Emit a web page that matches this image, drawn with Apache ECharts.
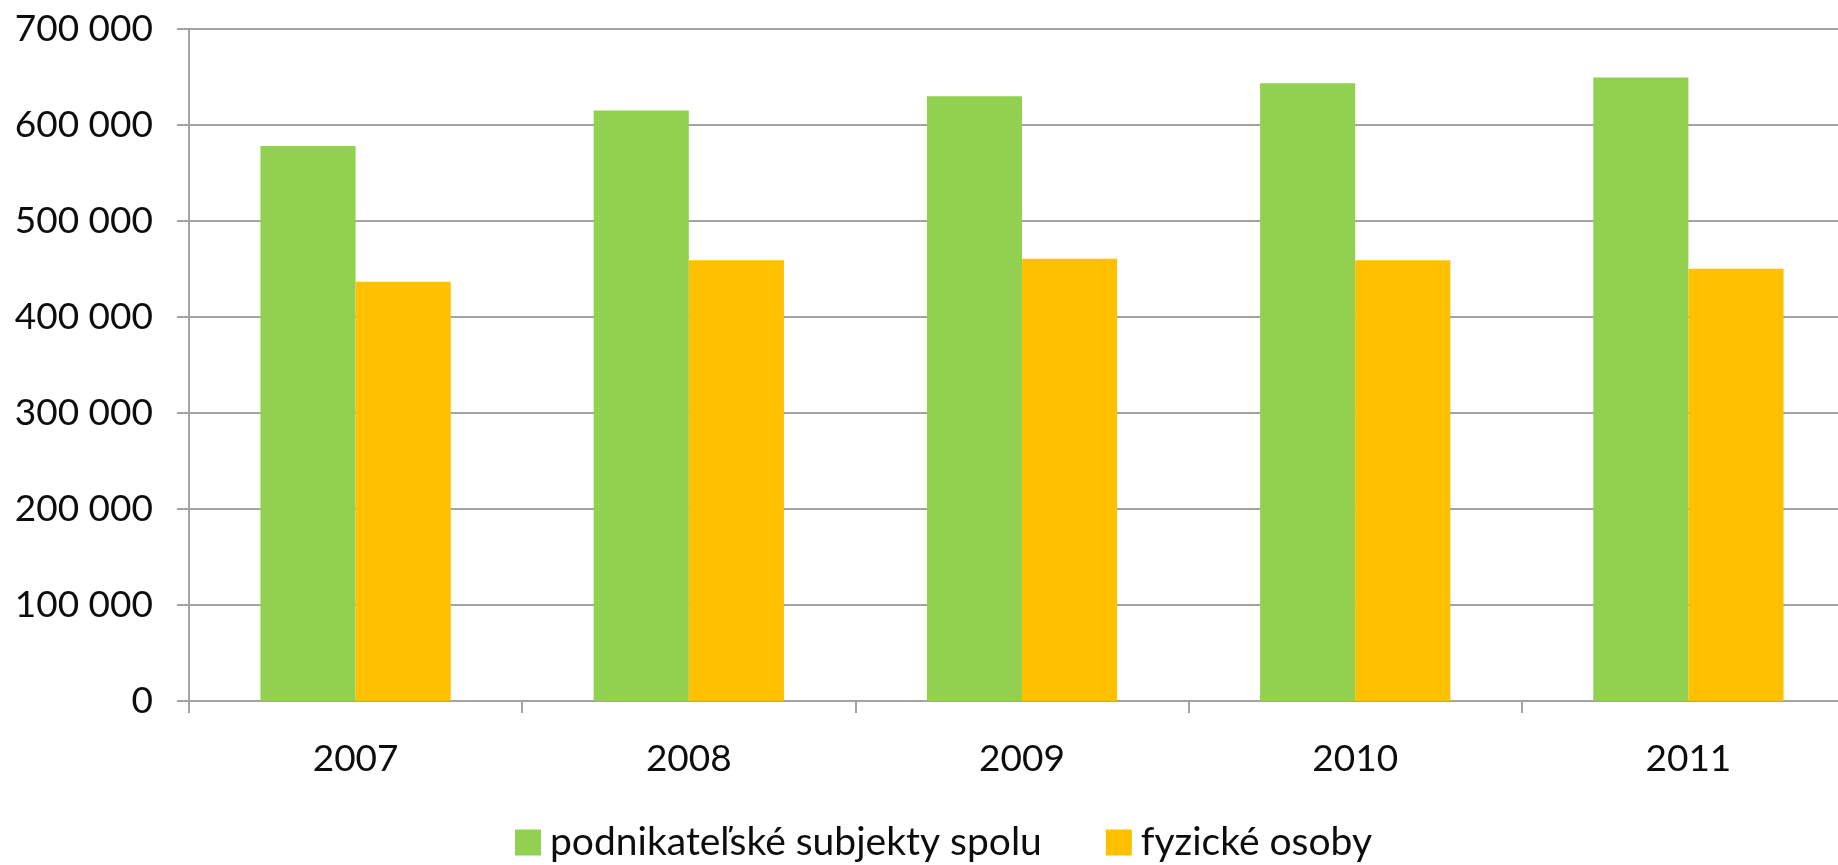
<!DOCTYPE html>
<html>
<head>
<meta charset="utf-8">
<script src="https://cdn.jsdelivr.net/npm/echarts@6/dist/echarts.min.js"></script>
<style>
html,body{margin:0;padding:0;background:#fff;}
#chart{width:1838px;height:865px;}
</style>
</head>
<body>
<div id="chart"></div>
<script>
const categories = ['2007', '2008', '2009', '2010', '2011'];
const seriesNames = ['podnikateľské subjekty spolu', 'fyzické osoby'];
const podnikatelskeSubjekty = [578000, 615000, 630000, 643500, 649500];
const fyzickeOsoby = [436600, 459200, 460600, 459200, 450200];
const yTicks = [0, 100000, 200000, 300000, 400000, 500000, 600000, 700000];

const FONT = 'Lato';
const TEXT = '#0d0d0d';
const GRID = '#a3a3a3';

const chart = echarts.init(document.getElementById('chart'));
chart.setOption({
  backgroundColor: '#ffffff',
  animation: false,
  textStyle: { fontFamily: FONT },
  grid: { left: 189, right: -17, top: 29, bottom: 164, containLabel: false, outerBoundsMode: 'none' },
  legend: {
    left: 510,
    top: 818,
    icon: 'rect',
    itemWidth: 26,
    itemHeight: 26,
    itemGap: 64,
    textStyle: { fontFamily: FONT, fontSize: 39, color: TEXT, padding: [0, 0, 0, 4] },
    data: seriesNames
  },
  xAxis: {
    type: 'category',
    data: categories,
    axisLine: { show: true, lineStyle: { color: GRID, width: 2 } },
    axisTick: { show: true, alignWithLabel: false, length: 12, lineStyle: { color: GRID, width: 2 } },
    axisLabel: { fontFamily: FONT, fontSize: 37, color: TEXT, margin: 40 }
  },
  yAxis: {
    type: 'value',
    min: yTicks[0],
    max: yTicks[yTicks.length - 1],
    interval: yTicks[1] - yTicks[0],
    axisLine: { show: true, lineStyle: { color: GRID, width: 2 } },
    axisTick: { show: true, length: 12, lineStyle: { color: GRID, width: 2 } },
    splitLine: { show: true, lineStyle: { color: GRID, width: 2 } },
    axisLabel: {
      fontFamily: FONT, fontSize: 37, color: TEXT, margin: 36,
      formatter: v => String(v).replace(/\B(?=(\d{3})+(?!\d))/g, ' ')
    }
  },
  series: [
    {
      name: seriesNames[0], type: 'bar', data: podnikatelskeSubjekty,
      itemStyle: { color: '#92D050' },
      barGap: '0%', barCategoryGap: '42.9%'
    },
    {
      name: seriesNames[1], type: 'bar', data: fyzickeOsoby,
      itemStyle: { color: '#FFC000' },
      barGap: '0%', barCategoryGap: '42.9%'
    }
  ]
});
</script>
</body>
</html>
